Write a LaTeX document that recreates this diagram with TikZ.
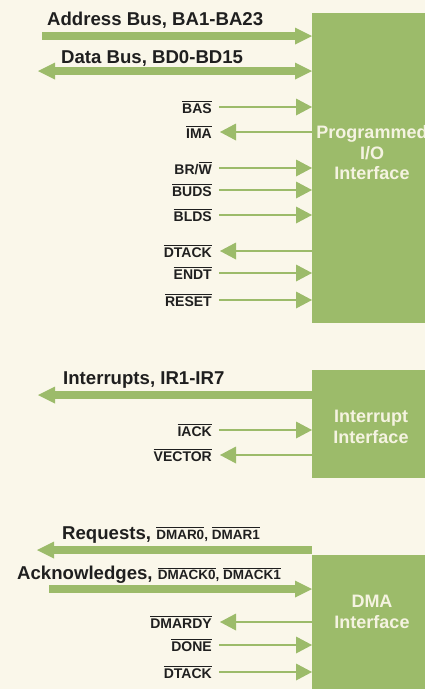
\documentclass[tikz,border=0pt]{standalone}
\usepackage{fontspec}
\setmainfont{Liberation Sans}
\usetikzlibrary{
  arrows.meta,
  positioning,
  calc
}
\definecolor{ioGreen}{HTML}{9CBB6A}
\definecolor{ioPaper}{HTML}{FAF7EA}
\definecolor{ioInk}{HTML}{1F1F1F}
\definecolor{ioPale}{HTML}{F5F3E1}
\newcommand{\ovl}[1]{\leavevmode\vbox{\hrule height 0.8pt\kern 2pt\hbox{#1}}}
\newcommand{\smallsig}{\fontsize{13.5}{15}\selectfont}
\tikzset{
  ifbox/.style={fill=ioGreen, draw=none, anchor=north west, minimum width=130pt, inner sep=0pt},
  iftext/.style={font=\fontsize{18}{20.5}\selectfont\bfseries, text=ioPale, align=center, inner sep=0pt},
  buslabel/.style={font=\fontsize{18.6}{20}\selectfont\bfseries, text=ioInk, anchor=west, inner sep=0pt},
  siglabel/.style={font=\fontsize{14}{16}\selectfont\bfseries, text=ioInk, anchor=east, inner sep=0pt},
  busline/.style={line width=8pt, ioGreen},
  busin/.style={busline, -{Triangle[length=17pt, width=17pt, line width=0pt]}},
  busout/.style={busline, {Triangle[length=17pt, width=17pt, line width=0pt]}-},
  busboth/.style={busline, {Triangle[length=17pt, width=17pt, line width=0pt]}-{Triangle[length=17pt, width=17pt, line width=0pt]}},
  sigline/.style={line width=1.4pt, ioGreen},
  sigin/.style={sigline, -{Triangle[length=16pt, width=17pt, line width=0pt]}},
  sigout/.style={sigline, {Triangle[length=16pt, width=17pt, line width=0pt]}-}
}

\begin{document}
\begin{tikzpicture}[x=1pt, y=-1pt]
  \useasboundingbox (0,0) rectangle (425,689);
  \fill[ioPaper] (0,0) rectangle (425,689);
  \clip (0,0) rectangle (425,689);

  % interface blocks
  \node[ifbox, minimum height=310pt] (pio) at (312,13) {};
  \node[ifbox, minimum height=108pt] (irq) at (312,370) {};
  \node[ifbox, minimum height=140pt] (dma) at (312,555) {};
  \node[iftext] (piot) at (372,153) {Programmed\\I/O\\Interface};
  \node[iftext] (irqt) at (371,427) {Interrupt\\Interface};
  \node[iftext] (dmat) at (372,612) {DMA\\Interface};

  % programmed I/O
  \node[buslabel] (addr) at (47,20) {Address Bus, BA1-BA23};
  \coordinate (addrS) at (42,36);
  \draw[busin] (addrS) -- (addrS -| pio.west);
  \node[buslabel] (data) at (61,58) {Data Bus, BD0-BD15};
  \coordinate (dataS) at (38,71);
  \draw[busboth] (dataS) -- (dataS -| pio.west);

  \node[siglabel] (bas) at (212,107) {\ovl{BAS}};
  \draw[sigin] ([xshift=7pt]bas.east) -- (bas.east -| pio.west);
  \node[siglabel] (ima) at (212,132) {\ovl{IMA}};
  \draw[sigout] ([xshift=8pt]ima.east) -- (ima.east -| pio.west);
  \node[siglabel] (brw) at (212,168) {BR/\ovl{W}};
  \draw[sigin] ([xshift=7pt]brw.east) -- (brw.east -| pio.west);
  \node[siglabel] (buds) at (212,190) {\ovl{BUDS}};
  \draw[sigin] ([xshift=7pt]buds.east) -- (buds.east -| pio.west);
  \node[siglabel] (blds) at (212,215) {\ovl{BLDS}};
  \draw[sigin] ([xshift=7pt]blds.east) -- (blds.east -| pio.west);
  \node[siglabel] (dtack) at (212,251) {\ovl{DTACK}};
  \draw[sigout] ([xshift=8pt]dtack.east) -- (dtack.east -| pio.west);
  \node[siglabel] (endt) at (212,273) {\ovl{ENDT}};
  \draw[sigin] ([xshift=7pt]endt.east) -- (endt.east -| pio.west);
  \node[siglabel] (reset) at (212,300) {\ovl{RESET}};
  \draw[sigin] ([xshift=7pt]reset.east) -- (reset.east -| pio.west);

  % interrupts
  \node[buslabel] (intr) at (63,380) {Interrupts, IR1-IR7};
  \coordinate (intrS) at (38,395);
  \draw[busout] (intrS) -- (intrS -| irq.west);
  \node[siglabel] (iack) at (212,430) {\ovl{IACK}};
  \draw[sigin] ([xshift=7pt]iack.east) -- (iack.east -| irq.west);
  \node[siglabel] (vect) at (212,455) {\ovl{VECTOR}};
  \draw[sigout] ([xshift=8pt]vect.east) -- (vect.east -| irq.west);

  % dma
  \node[buslabel] (req) at (62,535) {Requests, {\smallsig\ovl{DMAR0}, \ovl{DMAR1}}};
  \coordinate (reqS) at (37,550);
  \draw[busout] (reqS) -- (reqS -| dma.west);
  \node[buslabel] (ack) at (17,575) {Acknowledges, {\smallsig\ovl{DMACK0}, \ovl{DMACK1}}};
  \coordinate (ackS) at (49,589);
  \draw[busin] (ackS) -- (ackS -| dma.west);
  \node[siglabel] (rdy) at (212,622) {\ovl{DMARDY}};
  \draw[sigout] ([xshift=8pt]rdy.east) -- (rdy.east -| dma.west);
  \node[siglabel] (done) at (212,645) {\ovl{DONE}};
  \draw[sigin] ([xshift=7pt]done.east) -- (done.east -| dma.west);
  \node[siglabel] (dtackd) at (212,672) {\ovl{DTACK}};
  \draw[sigin] ([xshift=7pt]dtackd.east) -- (dtackd.east -| dma.west);
\end{tikzpicture}
\end{document}
